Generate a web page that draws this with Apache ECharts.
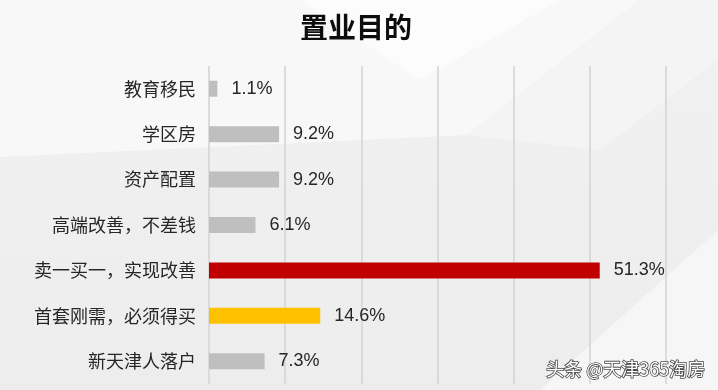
<!DOCTYPE html>
<html><head><meta charset="utf-8">
<script src="https://cdn.jsdelivr.net/npm/echarts@6/dist/echarts.min.js"></script>
<style>html,body{margin:0;padding:0;}#c{width:718px;height:390px;}</style>
</head><body><div id="c"></div>
<script>
const title = '置业目的';
const categories = ['教育移民','学区房','资产配置','高端改善，不差钱','卖一买一，实现改善','首套刚需，必须得买','新天津人落户'];
const values = [1.1, 9.2, 9.2, 6.1, 51.3, 14.6, 7.3];
const barColors = ['#BFBFBF','#BFBFBF','#BFBFBF','#BFBFBF','#C00000','#FFC000','#BFBFBF'];
const xTicks = [0,10,20,30,40,50,60];
const watermark = '头条 @天津365淘房';

const chart = echarts.init(document.getElementById('c'));
chart.setOption({
  backgroundColor: {type:'linear', x:0, y:0, x2:0, y2:1, colorStops:[{offset:0,color:'#F1F1F1'},{offset:1,color:'#EDEDED'}]},
  title: {text: title, left: 295, top: 8, textStyle:{fontFamily:'Noto Sans CJK SC', fontWeight:'bold', fontSize:28, color:'#0D0D0D'}},
  graphic: [
    {type:'polygon', z:-10, silent:true, shape:{points:[[0,0],[640,0],[467,135],[0,157]]}, style:{fill:'#F8F8F8'}},
    {type:'polygon', z:-10, silent:true, shape:{points:[[300,0],[560,0],[420,80]]}, style:{fill:'#FCFCFC'}},
    {type:'polygon', z:-10, silent:true, shape:{points:[[640,0],[718,0],[718,60],[600,150],[467,135]]}, style:{fill:'#F4F4F4'}},
    {type:'polygon', z:-10, silent:true, shape:{points:[[540,390],[718,230],[718,390]]}, style:{fill:'#F6F6F6'}},
    {type:'text', right:12, top:359, z:100, style:{text: watermark, fontFamily:'Noto Sans CJK SC', fontSize:18, fill:'#FFFFFF', stroke:'#4A4A4A', lineWidth:1.6}}
  ],
  grid: {left:209, right:52, top:66, bottom:6, containLabel:false},
  xAxis: {type:'value', min:xTicks[0], max:xTicks[xTicks.length-1], interval:10,
    axisLabel:{show:false}, axisLine:{show:false}, axisTick:{show:false},
    splitLine:{show:true, lineStyle:{color:'#D3D3D3', width:1.5}}},
  yAxis: {type:'category', inverse:true, data:categories,
    axisLine:{show:false}, axisTick:{show:false},
    axisLabel:{margin:13, fontFamily:'Noto Sans CJK SC', fontSize:18, color:'#262626'}},
  series: [{type:'bar', barWidth:16,
    data: values.map((v,i)=>({value:v, itemStyle:{color:barColors[i]}})),
    label:{show:true, position:'right', distance:14, formatter: p => p.value.toFixed(1)+'%',
      fontFamily:'Liberation Sans', fontSize:18, color:'#262626'},
    animation:false}]
});
</script></body></html>
